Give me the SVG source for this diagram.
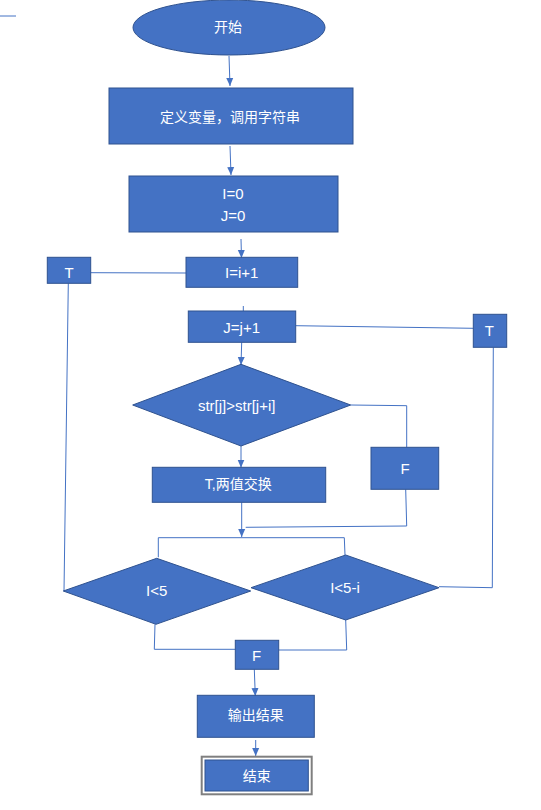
<svg xmlns="http://www.w3.org/2000/svg" width="541" height="810" viewBox="0 0 541 810">
<defs>
<style>
.n{fill:#4472C4;stroke:#2F528F;stroke-width:1}
.t{fill:#fff;font-family:"Liberation Sans","Noto Sans CJK SC",sans-serif;font-size:14px;text-anchor:middle;dominant-baseline:central}
.l{font-size:15px}
.c{fill:none;stroke:#4472C4;stroke-width:1}
.a{marker-end:url(#ah)}
</style>
<marker id="ah" markerWidth="8" markerHeight="8" viewBox="0 0 8 8" refX="8" refY="4" orient="auto" markerUnits="userSpaceOnUse">
<path d="M0,0.5 L8,4 L0,7.5 Z" fill="#4472C4"/>
</marker>
</defs>
<rect width="541" height="810" fill="#fff"/>
<g id="connectors">
<line class="c" x1="0" y1="16" x2="16" y2="16"/>
<line class="c a" x1="229" y1="56" x2="230" y2="86"/>
<line class="c a" x1="230" y1="146" x2="231" y2="175"/>
<line class="c a" x1="241" y1="239" x2="241.5" y2="258"/>
<line class="c" x1="90.7" y1="272.7" x2="186" y2="273"/>
<polyline class="c" points="68.3,283.3 64,591"/>
<line class="c" x1="243.3" y1="306" x2="243.3" y2="311"/>
<line class="c" x1="295.7" y1="325.7" x2="473.3" y2="328.3"/>
<polyline class="c" points="493.3,347.3 492.3,587.7 439,586.7"/>
<line class="c a" x1="241.7" y1="342.3" x2="241" y2="365"/>
<polyline class="c" points="350.7,405 406.7,405.7 406.7,447.3"/>
<polyline class="c" points="405.7,489.3 406.7,526 245.7,527.3"/>
<line class="c a" x1="241" y1="446" x2="241" y2="467.5"/>
<line class="c a" x1="241.7" y1="502.3" x2="241.7" y2="537"/>
<polyline class="c" points="158.3,557.3 158.3,537.7 344.3,537.7 345,555"/>
<polyline class="c" points="155,624.3 154.3,649.3 235.3,649.3"/>
<polyline class="c" points="345.7,620 346.7,650 278.7,650"/>
<line class="c a" x1="254.3" y1="669.3" x2="255.3" y2="696"/>
<line class="c a" x1="255.7" y1="740" x2="255.7" y2="756"/>
</g>
<g id="start">
<ellipse class="n" cx="229" cy="27.5" rx="96" ry="27.5"/>
<text class="t" x="228" y="27">开始</text>
</g>
<g id="define">
<rect class="n" x="109" y="88" width="244" height="56"/>
<text class="t" x="230" y="117">定义变量，调用字符串</text>
</g>
<g id="init">
<rect class="n" x="129" y="176" width="209" height="56"/>
<text class="t l" x="233" y="193">I=0</text>
<text class="t l" x="233" y="215">J=0</text>
</g>
<g id="inc-i">
<rect class="n" x="186" y="257.3" width="111.7" height="30"/>
<text class="t l" x="241.7" y="272.7">I=i+1</text>
</g>
<g id="t-left">
<rect class="n" x="47.3" y="257.3" width="43.4" height="26"/>
<text class="t l" x="69" y="272.7">T</text>
</g>
<g id="inc-j">
<rect class="n" x="188.3" y="311" width="107.4" height="31.3"/>
<text class="t l" x="241.7" y="327.7">J=j+1</text>
</g>
<g id="t-right">
<rect class="n" x="473.3" y="314.3" width="33.4" height="33"/>
<text class="t l" x="489.3" y="330.7">T</text>
</g>
<g id="compare">
<polygon class="n" points="132.7,405 241,364.3 350.7,405 241,446"/>
<text class="t l" x="236.7" y="405">str[j]&gt;str[j+i]</text>
</g>
<g id="f-mid">
<rect class="n" x="371" y="447.3" width="67.7" height="42"/>
<text class="t l" x="405" y="468.3">F</text>
</g>
<g id="swap">
<rect class="n" x="152.3" y="467.3" width="173.4" height="35"/>
<text class="t" x="238.3" y="484.3">T,两值交换</text>
</g>
<g id="cond-i">
<polygon class="n" points="63.3,591 156.7,558.3 250.7,591 156,624.3"/>
<text class="t l" x="156.7" y="590">I&lt;5</text>
</g>
<g id="cond-j">
<polygon class="n" points="251,587.7 345.7,555 439,587.7 345.7,620"/>
<text class="t l" x="345" y="587.3">I&lt;5-i</text>
</g>
<g id="f-bottom">
<rect class="n" x="235.3" y="640.3" width="43.4" height="29"/>
<text class="t l" x="256.7" y="655.7">F</text>
</g>
<g id="output">
<rect class="n" x="197.3" y="695.3" width="117" height="42"/>
<text class="t" x="255.7" y="715">输出结果</text>
</g>
<g id="end">
<rect x="201.7" y="756.7" width="110" height="37.6" fill="#fff" stroke="#7F7F7F" stroke-width="2"/>
<rect class="n" x="205" y="760" width="103.3" height="31"/>
<text class="t" x="256.7" y="775.7">结束</text>
</g>
</svg>
